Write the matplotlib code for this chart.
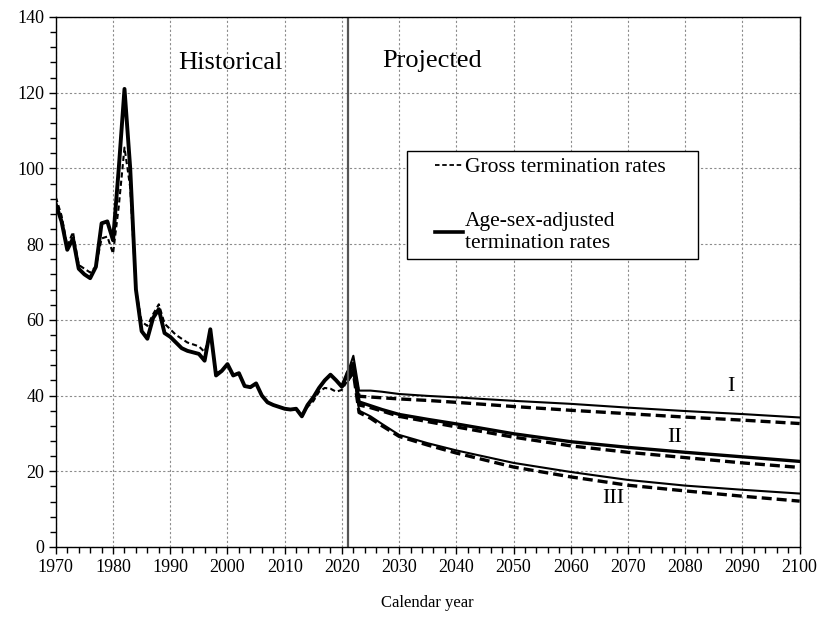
import numpy as np
import matplotlib.pyplot as plt
from matplotlib.ticker import MultipleLocator
from matplotlib.legend_handler import HandlerLine2D

plt.rcParams['font.family'] = ['Liberation Serif', 'DejaVu Serif']

# historical series, yearly 1970-2021
hist_years = list(range(1970, 2022))
adj_hist = [90.5, 86, 78.5, 81.5, 73.5, 72, 71, 74, 85.5, 86,
            81, 100, 121, 100, 68, 57, 55, 60.5, 62.8, 56.5,
            55.5, 54, 52.5, 51.8, 51.4, 51, 49.2, 57.5, 45.3, 46.5,
            48.3, 45.3, 45.9, 42.5, 42.2, 43.2, 40, 38.2, 37.5, 37,
            36.5, 36.3, 36.5, 34.5, 37.5, 39.5, 42, 44, 45.5, 44,
            42.3, 46]
gross_hist = [92.4, 87.5, 79.5, 83.2, 74.5, 73.5, 72.5, 74, 81.5, 82,
              77.5, 90, 105.5, 95, 68, 59.5, 58.4, 61.5, 64.1, 59,
              57.5, 56, 55, 54, 53.5, 53, 51.5, 56.5, 46, 46.5,
              48, 45.5, 45.9, 42.5, 42.2, 43, 40, 38.2, 37.5, 37,
              36.5, 36.3, 36.5, 35, 37, 38.5, 41, 42, 41.8, 41,
              41.5, 44]

# projections, alternatives I, II, III
proj_years = [2021, 2022, 2023, 2025, 2027, 2030, 2035, 2040, 2050, 2060, 2070, 2080, 2090, 2100]
adj_I = [46, 50.5, 41.3, 41.3, 41.0, 40.4, 39.9, 39.5, 38.6, 37.8, 36.8, 35.9, 35.1, 34.2]
gross_I = [44, 48, 39.8, 39.6, 39.4, 39.1, 38.7, 38.2, 37.1, 36.1, 35.2, 34.3, 33.5, 32.6]
adj_II = [46, 48.5, 38.3, 37.3, 36.3, 35.0, 33.7, 32.5, 29.9, 27.8, 26.3, 25.0, 23.8, 22.6]
gross_II = [44, 47, 37.5, 36.8, 35.9, 34.5, 33.1, 31.7, 29.0, 26.7, 25.0, 23.6, 22.2, 21.0]
adj_III = [46, 47, 36, 34.5, 32.5, 29.6, 27.4, 25.5, 22.2, 19.8, 17.7, 16.2, 15.1, 14.1]
gross_III = [44, 46, 35.5, 34, 32, 29.2, 26.9, 24.8, 21.1, 18.5, 16.3, 14.8, 13.4, 12.1]


class OffsetLineHandler(HandlerLine2D):
    # legend line that starts a bit to the right inside the handle box
    def __init__(self, offset=1.0, **kw):
        super().__init__(**kw)
        self.offset = offset

    def get_xdata(self, legend, xdescent, ydescent, width, height, fontsize):
        xdata, xdata_marker = super().get_xdata(legend, xdescent, ydescent, width, height, fontsize)
        xdata = np.array([-xdescent + self.offset * fontsize, -xdescent + width])
        return xdata, xdata_marker


fig = plt.figure(figsize=(8.21, 6.18), dpi=100)
ax = fig.add_axes([0.068, 0.115, 0.906, 0.8575])

grid_kw = dict(color='#8c8c8c', lw=0.8, ls=(0, (2, 2)))
ax.grid(True, which='major', **grid_kw)
ax.set_axisbelow(True)

ax.plot(hist_years, gross_hist, color='black', lw=1.5, ls=(0, (2.5, 1.5)))
ax.plot(hist_years, adj_hist, color='black', lw=2.8, solid_joinstyle='round')

proj_dash = (0, (3, 1.5))
ax.plot(proj_years, gross_I, color='black', lw=2.4, ls=proj_dash)
ax.plot(proj_years, gross_II, color='black', lw=2.4, ls=proj_dash)
ax.plot(proj_years, gross_III, color='black', lw=2.4, ls=proj_dash)
ax.plot(proj_years, adj_I, color='black', lw=1.5)
ax.plot(proj_years, adj_II, color='black', lw=2.4)
ax.plot(proj_years, adj_III, color='black', lw=1.5)

ax.axvline(2021, color='#555555', lw=1.6)

ax.text(2000.5, 126.3, 'Historical', fontsize=19, ha='center', va='baseline')
ax.text(2035.8, 126.8, 'Projected', fontsize=19, ha='center', va='baseline')
ax.text(2088.0, 42.4, 'I', fontsize=16, ha='center', va='center')
ax.text(2078.2, 29.0, 'II', fontsize=16, ha='center', va='center')
ax.text(2067.4, 12.8, 'III', fontsize=16, ha='center', va='center')

h1, = ax.plot([], [], color='black', lw=1.3, ls=(0, (2.5, 1.5)))
h2, = ax.plot([], [], color='black', lw=2.6)
hnd = OffsetLineHandler(offset=1.0)
leg = ax.legend([h1, h2], ['Gross termination rates', 'Age-sex-adjusted\ntermination rates'],
                handler_map={h1: hnd, h2: hnd},
                loc='upper left', bbox_to_anchor=(0.4718, 0.5, 0.391, 0.2472),
                mode='expand', fontsize=15.5,
                frameon=True, fancybox=False, edgecolor='black', framealpha=1,
                handlelength=2.3, handletextpad=0.1, labelspacing=1.6,
                borderpad=0.3, borderaxespad=0)
leg.get_frame().set_linewidth(1.0)
for t in leg.get_texts():
    t.set_linespacing(1.2)

ax.set_xlim(1970, 2100)
ax.set_ylim(0, 140)
ax.xaxis.set_major_locator(MultipleLocator(10))
ax.xaxis.set_minor_locator(MultipleLocator(2))
ax.yaxis.set_major_locator(MultipleLocator(20))
ax.yaxis.set_minor_locator(MultipleLocator(4))
ax.tick_params(which='both', direction='out', length=5, width=1, labelsize=13)
ax.tick_params(which='minor', length=4)
for s in ax.spines.values():
    s.set_linewidth(1.0)

ax.set_xlabel('Calendar year', fontsize=12, labelpad=14)

fig.savefig('out.png', dpi=100)
